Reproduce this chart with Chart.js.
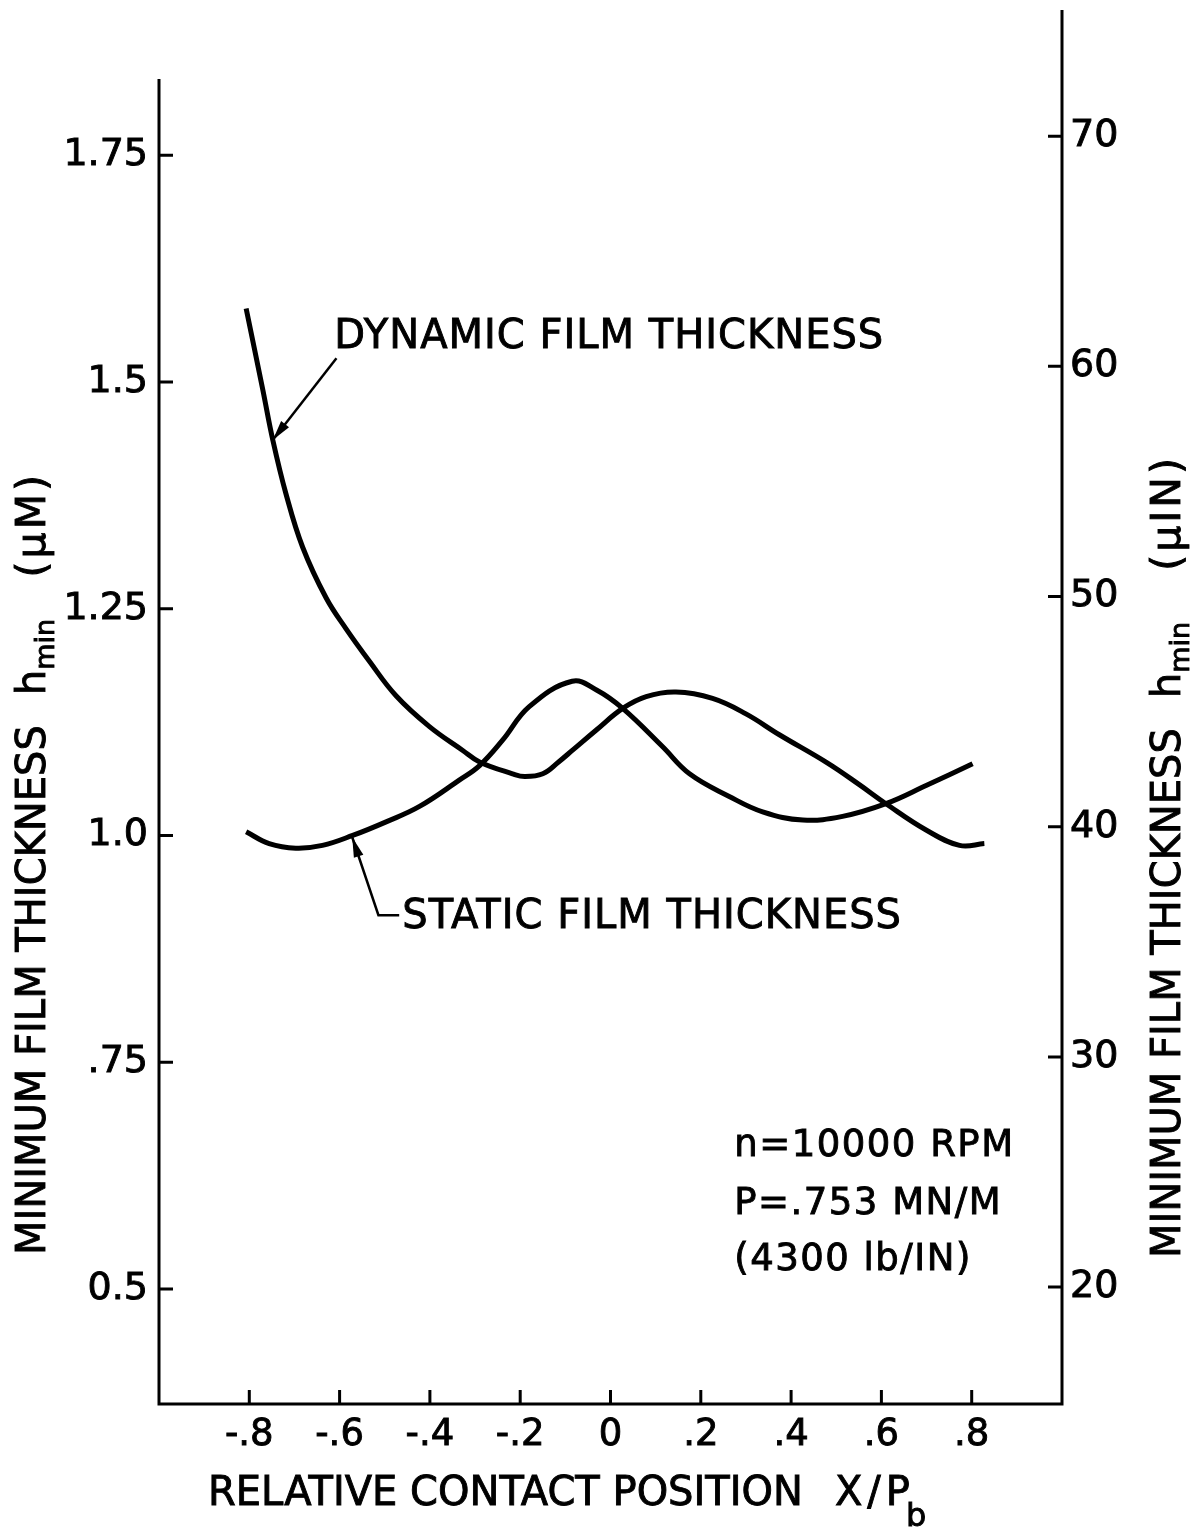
<!DOCTYPE html>
<html>
<head>
<meta charset="utf-8">
<script src="https://cdn.jsdelivr.net/npm/chart.js@4.4.1/dist/chart.umd.min.js"></script>
<style>
  html, body { margin: 0; padding: 0; background: #fff; }
</style>
</head>
<body>
<canvas id="filmChart" width="1204" height="1530"></canvas>
<script>
// values (x = X/Pb, y = h_min in micrometres)
const dynX = [-0.807, -0.770, -0.748, -0.719, -0.682, -0.630, -0.586, -0.534, -0.475, -0.401, -0.328, -0.290, -0.217, -0.190, -0.150, -0.115, -0.084, -0.032, 0.027, 0.079, 0.145, 0.226, 0.300, 0.374, 0.480, 0.551, 0.610, 0.699, 0.773, 0.828];
const dynY = [1.581, 1.491, 1.436, 1.377, 1.318, 1.262, 1.228, 1.192, 1.154, 1.120, 1.094, 1.081, 1.068, 1.065, 1.068, 1.081, 1.094, 1.116, 1.140, 1.153, 1.158, 1.151, 1.134, 1.111, 1.080, 1.056, 1.035, 1.006, 0.989, 0.991];
const staX = [-0.807, -0.756, -0.697, -0.638, -0.571, -0.497, -0.423, -0.335, -0.290, -0.239, -0.180, -0.085, -0.030, 0.027, 0.115, 0.175, 0.263, 0.337, 0.426, 0.514, 0.610, 0.699, 0.802];
const staY = [1.004, 0.991, 0.986, 0.989, 1.000, 1.015, 1.032, 1.061, 1.077, 1.105, 1.142, 1.170, 1.160, 1.140, 1.098, 1.068, 1.043, 1.026, 1.017, 1.021, 1.035, 1.055, 1.079];

const xTicks = [-0.8, -0.6, -0.4, -0.2, 0, 0.2, 0.4, 0.6, 0.8];
const xTickLabels = ['-.8', '-.6', '-.4', '-.2', '0', '.2', '.4', '.6', '.8'];
const leftTicks = [0.5, 0.75, 1.0, 1.25, 1.5, 1.75];
const leftTickLabels = ['0.5', '.75', '1.0', '1.25', '1.5', '1.75'];
const rightTicks = [20, 30, 40, 50, 60, 70];
const rightTickLabels = ['20', '30', '40', '50', '60', '70'];

const FONT = '"DejaVu Sans"';
const leftAxisTop = 1.834;

function toPts(xs, ys) {
  return xs.map((x, i) => ({ x: x, y: ys[i] }));
}

// filled + lightly stroked text, to get the heavy lettering of the original
function txt(ctx, t, x, y, size, sp) {
  ctx.font = size + 'px ' + FONT;
  ctx.letterSpacing = (sp || 0) + 'px';
  ctx.fillText(t, x, y);
  ctx.lineWidth = 0.9;
  ctx.strokeText(t, x, y);
  return ctx.measureText(t).width;
}

function arrowHead(ctx, fx, fy, tx, ty, len, half) {
  const ang = Math.atan2(ty - fy, tx - fx);
  ctx.beginPath();
  ctx.moveTo(tx, ty);
  ctx.lineTo(tx - len * Math.cos(ang) + half * Math.sin(ang), ty - len * Math.sin(ang) - half * Math.cos(ang));
  ctx.lineTo(tx - len * Math.cos(ang) - half * Math.sin(ang), ty - len * Math.sin(ang) + half * Math.cos(ang));
  ctx.closePath();
  ctx.fill();
}

// rotated axis title: main words, h with subscript, unit in brackets
function sideTitle(ctx, cx, bottom, unit, unitEnd) {
  ctx.save();
  ctx.translate(cx, bottom);
  ctx.rotate(-Math.PI / 2);
  ctx.textAlign = 'left';
  let w = txt(ctx, 'MINIMUM FILM THICKNESS', 0, 0, 40, 0);
  let p = w + 30;
  p += txt(ctx, 'h', p, 0, 40, 0);
  txt(ctx, 'min', p, 9, 27, 0);
  ctx.textAlign = 'right';
  txt(ctx, unit, unitEnd, 0, 41, 3);
  ctx.restore();
}

const frame = {
  id: 'frame',
  afterDatasetsDraw(chart) {
    const ctx = chart.ctx;
    const a = chart.chartArea;
    const x = chart.scales.x, y = chart.scales.y, y2 = chart.scales.y2;
    ctx.save();
    ctx.strokeStyle = '#000';
    ctx.fillStyle = '#000';
    ctx.lineWidth = 3;

    // axes
    ctx.beginPath();
    ctx.moveTo(a.left, y.getPixelForValue(leftAxisTop));
    ctx.lineTo(a.left, a.bottom);
    ctx.lineTo(a.right, a.bottom);
    ctx.lineTo(a.right, a.top);
    ctx.stroke();

    // inward tick marks
    const tl = 14;
    ctx.beginPath();
    xTicks.forEach(v => { const p = x.getPixelForValue(v); ctx.moveTo(p, a.bottom); ctx.lineTo(p, a.bottom - tl); });
    leftTicks.forEach(v => { const p = y.getPixelForValue(v); ctx.moveTo(a.left, p); ctx.lineTo(a.left + tl, p); });
    rightTicks.forEach(v => { const p = y2.getPixelForValue(v); ctx.moveTo(a.right, p); ctx.lineTo(a.right - tl, p); });
    ctx.stroke();

    // tick labels
    ctx.textBaseline = 'middle';
    ctx.textAlign = 'right';
    leftTicks.forEach((v, i) => txt(ctx, leftTickLabels[i], a.left - 11, y.getPixelForValue(v), 38, 0));
    ctx.textAlign = 'left';
    rightTicks.forEach((v, i) => txt(ctx, rightTickLabels[i], a.right + 8, y2.getPixelForValue(v), 38, 0));
    ctx.textAlign = 'center';
    ctx.textBaseline = 'alphabetic';
    xTicks.forEach((v, i) => txt(ctx, xTickLabels[i], x.getPixelForValue(v), a.bottom + 41, 37, 0));

    // axis titles
    sideTitle(ctx, 45, 1255, '(µM)', 783);
    sideTitle(ctx, 1180, 1258, '(µIN)', 803);

    ctx.textAlign = 'left';
    let w = txt(ctx, 'RELATIVE CONTACT POSITION', 208, 1505, 40, 0);
    let p = 208 + w + 32;
    p += txt(ctx, 'X', p, 1505, 40, 0) + 5;
    p += txt(ctx, '/', p, 1505, 40, 0) + 5;
    p += txt(ctx, 'P', p, 1505, 40, 0);
    txt(ctx, 'b', p - 4, 1526, 32, 0);

    // curve labels
    const px = v => x.getPixelForValue(v);
    const py = v => y.getPixelForValue(v);
    txt(ctx, 'DYNAMIC FILM THICKNESS', px(-0.612), py(1.537), 40, 1);
    txt(ctx, 'STATIC FILM THICKNESS', px(-0.461), py(0.898), 40, 1);

    ctx.lineWidth = 2.5;
    ctx.beginPath();
    ctx.moveTo(px(-0.607), py(1.526));
    ctx.lineTo(px(-0.748), py(1.436));
    ctx.stroke();
    arrowHead(ctx, px(-0.607), py(1.526), px(-0.748), py(1.436), 20, 5);

    ctx.beginPath();
    ctx.moveTo(px(-0.468), py(0.912));
    ctx.lineTo(px(-0.514), py(0.912));
    ctx.lineTo(px(-0.572), py(0.998));
    ctx.stroke();
    arrowHead(ctx, px(-0.514), py(0.912), px(-0.572), py(0.998), 20, 5);

    // operating conditions
    txt(ctx, 'n=10000 RPM', px(0.274), py(0.647), 37, 1.5);
    txt(ctx, 'P=.753 MN/M', px(0.274), py(0.583), 37, 1.5);
    txt(ctx, '(4300 lb/IN)', px(0.274), py(0.521), 37, 1.5);
    ctx.restore();
  }
};

function fixTicks(values) {
  return scale => { scale.ticks = values.map(v => ({ value: v })); };
}
function fixWidth(w) {
  return scale => { scale.width = w; scale.paddingTop = 0; scale.paddingBottom = 0; };
}

new Chart(document.getElementById('filmChart').getContext('2d'), {
  type: 'line',
  data: {
    datasets: [{
      label: 'Dynamic film thickness',
      data: toPts(dynX, dynY),
      borderColor: '#000',
      borderWidth: 5,
      pointRadius: 0,
      fill: false,
      tension: 0.4,
      yAxisID: 'y'
    }, {
      label: 'Static film thickness',
      data: toPts(staX, staY),
      borderColor: '#000',
      borderWidth: 5,
      pointRadius: 0,
      fill: false,
      tension: 0.4,
      yAxisID: 'y'
    }]
  },
  options: {
    responsive: false,
    animation: false,
    devicePixelRatio: 1,
    layout: { padding: { top: 10, left: 0, right: 0, bottom: 0 } },
    plugins: { legend: { display: false }, tooltip: { enabled: false } },
    scales: {
      x: {
        type: 'linear', min: -1, max: 1,
        grid: { display: false, drawTicks: false },
        border: { display: false },
        afterBuildTicks: fixTicks(xTicks),
        afterFit: s => { s.height = 126; s.paddingLeft = 0; s.paddingRight = 0; },
        ticks: { display: false }
      },
      y: {
        type: 'linear', position: 'left', min: 0.3732, max: 1.910,
        grid: { display: false, drawTicks: false },
        border: { display: false },
        afterBuildTicks: fixTicks(leftTicks),
        afterFit: fixWidth(159),
        ticks: { display: false }
      },
      y2: {
        type: 'linear', position: 'right', min: 14.92, max: 75.48,
        grid: { display: false, drawTicks: false },
        border: { display: false },
        afterBuildTicks: fixTicks(rightTicks),
        afterFit: fixWidth(142),
        ticks: { display: false }
      }
    }
  },
  plugins: [frame]
});
</script>
</body>
</html>
